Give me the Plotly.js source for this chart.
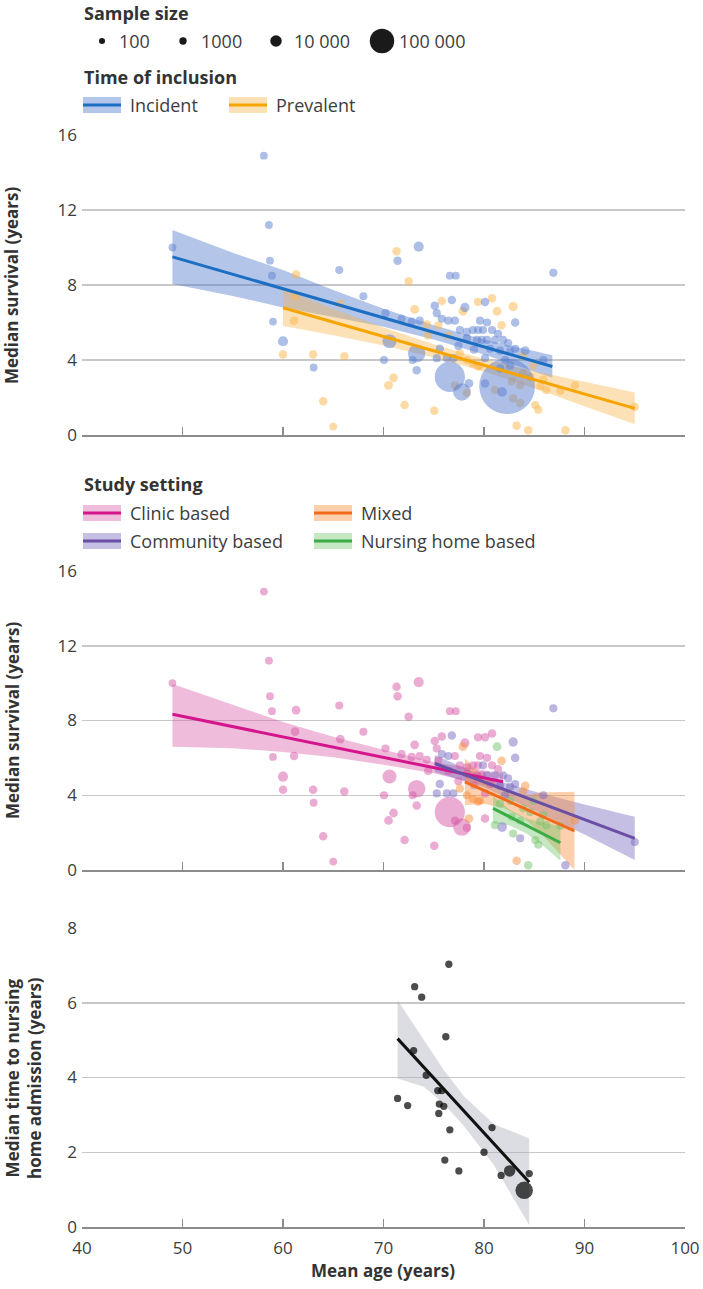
<!DOCTYPE html>
<html>
<head>
<meta charset="utf-8">
<script src="https://cdn.plot.ly/plotly-3.0.1.min.js"></script>
<style>
html,body{margin:0;padding:0;background:#fff;}
#chart{width:703px;height:1289px;}
</style>
</head>
<body>
<div id="chart"></div>
<script>
// ---------------- DATA ----------------
// Studies of median survival (shared by the two upper panels)
const studyAge = [49.0,58.1,58.6,58.7,58.9,61.3,61.2,61.1,59.0,60.0,60.0,63.0,63.05,66.1,64.0,65.0,65.6,65.7,68.0,71.3,
  71.4,73.5,72.5,76.6,77.2,86.9,70.2,70.6,70.05,71.0,70.5,72.1,75.05,73.3,73.3,72.9,76.6,77.8,78.5,82.3,
  81.8,80.1,83.25,84.4,88.1,95.0,89.05,87.6,73.1,75.1,75.8,76.8,78.1,77.9,79.4,80.1,75.3,75.8,76.45,77.1,
  73.6,71.8,74.3,75.45,72.8,75.6,74.45,76.45,75.3,76.3,76.95,77.6,77.45,78.3,78.3,77.6,78.3,78.9,79.4,79.9,
  79.3,79.8,80.3,79.6,78.9,79.4,78.3,77.1,80.8,81.3,82.9,83.1,81.75,80.8,81.4,81.1,81.9,82.4,80.6,81.6,
  82.6,83.1,84.1,82.1,82.6,81.6,83.9,84.6,85.9,86.2,85.6,83.6,82.9,83.6,85.1,85.4,84.9,83.9,79.6,81.1,
  82.75,85.9,80.1,79.0,80.3];
const studySurvival = [10.0,14.9,11.2,9.3,8.5,8.55,7.4,6.1,6.05,5.0,4.3,4.3,3.6,4.2,1.8,0.45,8.8,7.0,7.4,9.8,
  9.3,10.05,8.2,8.5,8.5,8.65,6.5,5.0,4.0,3.05,2.65,1.6,1.3,4.35,3.45,4.0,3.1,2.3,2.75,2.6,
  2.3,2.75,0.5,0.25,0.25,1.5,2.65,2.35,6.7,6.9,7.15,7.2,6.8,6.6,7.1,7.1,6.5,6.2,6.1,6.1,
  6.1,6.2,5.9,5.85,6.05,4.6,5.3,5.3,4.1,4.1,4.1,4.35,4.75,4.0,5.15,5.6,5.5,5.6,5.6,5.6,
  5.07,5.07,5.07,6.1,3.8,3.65,2.25,2.65,7.3,6.6,6.85,6.0,5.85,5.6,5.4,5.07,5.07,4.9,4.6,4.5,
  4.45,4.6,4.5,4.0,3.7,3.55,3.3,3.1,2.95,2.4,2.6,2.65,1.95,1.7,1.6,1.35,3.7,4.2,3.7,2.4,
  2.85,4.0,4.1,4.55,6.0];
const studyN = [1500,1500,1500,1500,1500,3000,3000,2500,1500,6000,2500,2500,1500,2500,2500,1500,1800,3000,1800,2500,
  2500,6000,2500,1500,1500,2000,2000,20000,2000,3000,3000,2500,2500,40000,2500,1800,170000,40000,3000,700000,
  5000,2500,2500,2500,2500,2000,2000,2000,3000,2500,2500,2500,4000,3000,2000,2500,2000,2000,2000,2000,
  2000,2000,2000,2000,2000,2500,2000,2000,2000,2000,2000,2000,2000,2000,2000,2000,2000,2000,2000,2000,
  2000,2000,2000,2000,2000,2000,2000,2000,2500,3000,4000,2500,2500,2000,2000,2000,2000,2000,2000,2000,
  2000,2000,3000,2000,2000,2000,2000,2000,2000,2000,2000,2000,2000,2000,2000,2000,2000,2000,2000,2000,
  2000,2000,2000,2000,2000];
const studyInclusion = ["I","I","I","I","I","P","P","P","I","I","P","P","I","P","P","P","I","P","I","P",
  "I","I","P","I","I","I","I","I","I","P","P","P","P","I","I","I","I","I","I","I",
  "I","I","P","P","P","P","P","P","P","I","P","I","I","P","P","I","I","I","I","I",
  "I","I","P","P","I","I","P","P","I","I","I","P","I","P","I","I","I","I","I","I",
  "I","I","I","I","P","P","P","P","P","P","P","I","P","I","I","I","I","I","I","I",
  "I","I","I","I","I","I","P","P","P","P","P","P","P","P","P","P","P","P","P","P",
  "P","I","I","I","I"];
// C = clinic, Co = community, M = mixed, N = nursing home, "" = not reported
const studySetting = ["C","C","C","C","C","C","C","C","C","C","C","C","C","C","C","C","C","C","C","C",
  "C","C","C","C","C","Co","C","C","C","C","C","C","C","C","C","C","C","C","M","",
  "Co","C","M","N","Co","Co","M","N","C","C","C","Co","C","M","C","C","C","Co","Co","C",
  "C","C","C","C","C","Co","C","C","Co","Co","Co","M","C","M","C","C","C","C","C","Co",
  "C","C","Co","C","M","M","C","C","C","N","Co","Co","M","C","C","Co","Co","Co","C","Co",
  "Co","Co","M","Co","N","N","N","N","N","N","N","N","N","Co","N","N","N","M","M","N",
  "N","Co","C","C","C"];

// Studies of time to nursing home admission
const nhAge = [71.4,72.4,73.0,73.1,73.8,74.25,76.5,75.4,75.8,76.2,75.55,76.0,75.5,76.6,76.1,77.5,80.0,80.8,81.7,82.55,84.0,84.5];
const nhTime = [3.44,3.25,4.72,6.43,6.15,4.06,7.03,3.65,3.65,5.09,3.29,3.23,3.04,2.6,1.79,1.5,2.0,2.66,1.38,1.5,0.98,1.43];
const nhN = [900,900,900,900,900,900,900,900,900,900,900,900,900,900,900,900,900,900,900,10000,40000,900];

// Fitted lines and confidence bands
const incFitX  = [49,55,60,65,70,75,80,86.8];
const incFitY  = [9.5,8.57,7.8,7.02,6.25,5.47,4.7,3.65];
const incFitHi = [10.94,9.72,8.8,7.74,6.73,5.85,5.1,4.25];
const incFitLo = [8.06,7.42,6.8,6.3,5.77,5.09,4.3,3.05];

const prevFitX  = [60,65,70,75,80,85,90,95];
const prevFitY  = [6.79,6.02,5.26,4.49,3.72,2.95,2.19,1.42];
const prevFitHi = [7.77,6.72,5.74,4.84,4.05,3.4,2.84,2.27];
const prevFitLo = [5.81,5.32,4.78,4.14,3.39,2.5,1.54,0.57];

const clinFitX  = [49,55,60,65,70,75,81.9];
const clinFitY  = [8.33,7.67,7.12,6.58,6.03,5.48,4.72];
const clinFitHi = [9.95,8.82,7.92,7.13,6.43,5.78,5.17];
const clinFitLo = [6.6,6.52,6.32,6.03,5.63,5.18,4.27];

const commFitX  = [75.1,80,85,90,95];
const commFitY  = [5.7,4.71,3.7,2.7,1.69];
const commFitHi = [6.15,5.01,4.2,3.5,2.85];
const commFitLo = [5.25,4.41,3.2,1.9,0.53];

const mixFitX  = [78.1,80,82,84,85.6,89];
const mixFitY  = [4.72,4.26,3.78,3.3,2.92,2.1];
const mixFitHi = [5.97,5.0,4.3,3.95,4.15,4.19];
const mixFitLo = [3.47,3.55,3.3,2.75,2.0,0.0];

const nursFitX  = [80.9,82.5,84.25,86,87.6];
const nursFitY  = [3.3,2.86,2.38,1.9,1.46];
const nursFitHi = [3.95,3.25,2.75,2.5,2.35];
const nursFitLo = [2.5,2.4,1.95,1.25,0.5];

const nhFitX  = [71.4,74,76,78,81,84.5];
const nhFitY  = [5.04,4.28,3.7,3.11,2.23,1.2];
const nhFitHi = [6.07,5.0,4.2,3.5,2.75,2.37];
const nhFitLo = [3.97,3.75,3.3,2.7,1.65,0.05];

// Legend values
const sizeLegendN = [100,1000,10000,100000];
const sizeLegendLabels = ["100","1000","10 000","100 000"];
const inclusionNames = {I:"Incident", P:"Prevalent"};
const settingNames = {C:"Clinic based", Co:"Community based", M:"Mixed", N:"Nursing home based"};
const xTicks = [40,50,60,70,80,90,100];

// ---------------- STYLE ----------------
const FONT = "Open Sans, Roboto, sans-serif";
const TXT = "#3d3d3d";
function dia(n){ return 5.5 + 0.06*Math.sqrt(n); }

const style = {
  I:  {marker:"#5b80cf", line:"#1b6ec2", band:"rgba(74,116,201,0.42)"},
  P:  {marker:"#fbb54a", line:"#f6a500", band:"rgba(251,176,64,0.38)"},
  C:  {marker:"#d65aa8", line:"#d4158c", band:"rgba(214,90,165,0.40)"},
  Co: {marker:"#7a6cc0", line:"#6a4fa5", band:"rgba(110,95,185,0.40)"},
  M:  {marker:"#f79040", line:"#f26b1d", band:"rgba(247,140,60,0.42)"},
  N:  {marker:"#74c46c", line:"#3aad46", band:"rgba(110,195,100,0.40)"},
  NH: {marker:"#000000", line:"#111111", band:"rgba(165,170,185,0.40)"}
};

function band(xs, lo, hi, color, xa, ya){
  return {x: xs.concat(xs.slice().reverse()), y: hi.concat(lo.slice().reverse()),
    type:"scatter", mode:"lines", fill:"toself", fillcolor:color, line:{width:0},
    hoverinfo:"skip", showlegend:false, xaxis:xa, yaxis:ya};
}
function fitLine(xs, ys, color, xa, ya){
  return {x:xs, y:ys, type:"scatter", mode:"lines", line:{color:color, width:3},
    hoverinfo:"skip", showlegend:false, xaxis:xa, yaxis:ya};
}
function pts(filterKey, filterVal, color, opacity, xa, ya){
  const xs=[], ys=[], ss=[];
  for(let i=0;i<studyAge.length;i++){
    const key = filterKey==="incl" ? studyInclusion[i] : studySetting[i];
    if(key===filterVal){ xs.push(studyAge[i]); ys.push(studySurvival[i]); ss.push(dia(studyN[i])); }
  }
  return {x:xs, y:ys, type:"scatter", mode:"markers", cliponaxis:false,
    marker:{color:color, size:ss, sizemode:"diameter", opacity:opacity, line:{width:0}},
    showlegend:false, xaxis:xa, yaxis:ya};
}

const traces = [];
// Top panel (x3,y3): time of inclusion
traces.push(band(incFitX, incFitLo, incFitHi, style.I.band, "x3","y3"));
traces.push(band(prevFitX, prevFitLo, prevFitHi, style.P.band, "x3","y3"));
traces.push(pts("incl","P", style.P.marker, 0.5, "x3","y3"));
traces.push(pts("incl","I", style.I.marker, 0.5, "x3","y3"));
traces.push(fitLine(incFitX, incFitY, style.I.line, "x3","y3"));
traces.push(fitLine(prevFitX, prevFitY, style.P.line, "x3","y3"));

// Middle panel (x2,y2): study setting
traces.push(band(clinFitX, clinFitLo, clinFitHi, style.C.band, "x2","y2"));
traces.push(band(commFitX, commFitLo, commFitHi, style.Co.band, "x2","y2"));
traces.push(band(mixFitX, mixFitLo, mixFitHi, style.M.band, "x2","y2"));
traces.push(band(nursFitX, nursFitLo, nursFitHi, style.N.band, "x2","y2"));
["C","Co","M","N"].forEach(k => traces.push(pts("set",k, style[k].marker, 0.5, "x2","y2")));
traces.push(fitLine(clinFitX, clinFitY, style.C.line, "x2","y2"));
traces.push(fitLine(commFitX, commFitY, style.Co.line, "x2","y2"));
traces.push(fitLine(mixFitX, mixFitY, style.M.line, "x2","y2"));
traces.push(fitLine(nursFitX, nursFitY, style.N.line, "x2","y2"));

// Bottom panel (x,y): nursing home admission
traces.push(band(nhFitX, nhFitLo, nhFitHi, style.NH.band, "x","y"));
traces.push({x:nhAge, y:nhTime, type:"scatter", mode:"markers", cliponaxis:false,
  marker:{color:style.NH.marker, size:nhN.map(dia), sizemode:"diameter", line:{width:0}},
  showlegend:false, xaxis:"x", yaxis:"y"});
traces.push(fitLine(nhFitX, nhFitY, style.NH.line, "x","y"));

// ---------------- LAYOUT ----------------
const W=703, H=1289, ML=82, MR=18, MT=135, MB=62;
const PW=W-ML-MR, PH=H-MT-MB;
const px = p => (p-ML)/PW;          // page px -> paper x
const py = p => (H-MB-p)/PH;        // page px -> paper y

function xax(anchor, labels){
  return {anchor:anchor, domain:[0,1], range:[40,100], tickmode:"array", tickvals:xTicks,
    ticks:"inside", ticklen:8, tickwidth:1.5, tickcolor:"#8c8c8c",
    showline:true, linecolor:"#8c8c8c", linewidth:1.5, showgrid:false, zeroline:false,
    showticklabels:labels, ticklabelstandoff:5,
    tickfont:{family:FONT, size:17, color:TXT}, fixedrange:true};
}
function yax(anchor, dom, max, dt){
  return {anchor:anchor, domain:dom, range:[0,max], dtick:dt, tick0:0, ticks:"",
    showline:false, showgrid:true, gridcolor:"#c8c8c8", gridwidth:1.5, zeroline:false,
    tickfont:{family:FONT, size:17, color:TXT}, ticklabelstandoff:4, fixedrange:true};
}

const annotations = [];
const shapes = [];
function txt(t, x, y, opts){
  annotations.push(Object.assign({text:t, xref:"paper", yref:"paper", x:px(x), y:py(y),
    xanchor:"left", yanchor:"middle", showarrow:false,
    font:{family:FONT, size:18, color:TXT}}, opts||{}));
}
function swatch(x, y, key){
  shapes.push({type:"rect", xref:"paper", yref:"paper", x0:px(x), x1:px(x+38), y0:py(y+8), y1:py(y-8),
    fillcolor:style[key].band, line:{width:0}});
  shapes.push({type:"line", xref:"paper", yref:"paper", x0:px(x), x1:px(x+38), y0:py(y), y1:py(y),
    line:{color:style[key].line, width:3}});
}

// Sample size legend
txt("<b>Sample size</b>", 82, 13, {font:{family:FONT, size:18, color:"#333"}});
const sizeDotX = [102,183,276,382];
const sizeLabX = [117,199,292,397];
sizeLegendN.forEach((n,i)=>{
  const r = dia(n)/2;
  shapes.push({type:"circle", xref:"paper", yref:"paper", xsizemode:"pixel", ysizemode:"pixel",
    xanchor:px(sizeDotX[i]), yanchor:py(41), x0:-r, x1:r, y0:-r, y1:r,
    fillcolor:"#1a1a1a", line:{width:0}});
  txt(sizeLegendLabels[i], sizeLabX[i], 41);
});

// Time of inclusion legend
txt("<b>Time of inclusion</b>", 82, 77, {font:{family:FONT, size:18, color:"#333"}});
swatch(83, 105, "I"); txt(inclusionNames.I, 128, 105);
swatch(229, 105, "P"); txt(inclusionNames.P, 274, 105);

// Study setting legend
txt("<b>Study setting</b>", 82, 484, {font:{family:FONT, size:18, color:"#333"}});
swatch(83, 513, "C");  txt(settingNames.C, 128, 513);
swatch(314, 513, "M"); txt(settingNames.M, 359, 513);
swatch(83, 541, "Co"); txt(settingNames.Co, 128, 541);
swatch(314, 541, "N"); txt(settingNames.N, 359, 541);

// Axis titles
const titleFont = {family:FONT, size:17, color:"#333"};
annotations.push({text:"<b>Median survival (years)</b>", xref:"paper", yref:"paper",
  x:px(12), y:py(285), textangle:-90, xanchor:"center", yanchor:"middle", showarrow:false, font:titleFont});
annotations.push({text:"<b>Median survival (years)</b>", xref:"paper", yref:"paper",
  x:px(12), y:py(720), textangle:-90, xanchor:"center", yanchor:"middle", showarrow:false, font:titleFont});
annotations.push({text:"<b>Median time to nursing<br>home admission (years)</b>", xref:"paper", yref:"paper",
  x:px(23), y:py(1078), textangle:-90, xanchor:"center", yanchor:"middle", showarrow:false, font:titleFont});
annotations.push({text:"<b>Mean age (years)</b>", xref:"paper", yref:"paper",
  x:px(383), y:py(1270), xanchor:"center", yanchor:"middle", showarrow:false, font:titleFont});

const layout = {
  width:W, height:H, margin:{l:ML, r:MR, t:MT, b:MB, pad:0},
  paper_bgcolor:"#fff", plot_bgcolor:"#fff", showlegend:false,
  font:{family:FONT, color:TXT},
  xaxis: xax("y", true),
  xaxis2: xax("y2", false),
  xaxis3: xax("y3", false),
  yaxis: yax("x", [0, py(928)], 8, 2),
  yaxis2: yax("x2", [py(870), py(571)], 16, 4),
  yaxis3: yax("x3", [py(435), 1], 16, 4),
  annotations: annotations,
  shapes: shapes,
  hovermode:false
};

Plotly.newPlot("chart", traces, layout, {staticPlot:true, displayModeBar:false});
</script>
</body>
</html>
